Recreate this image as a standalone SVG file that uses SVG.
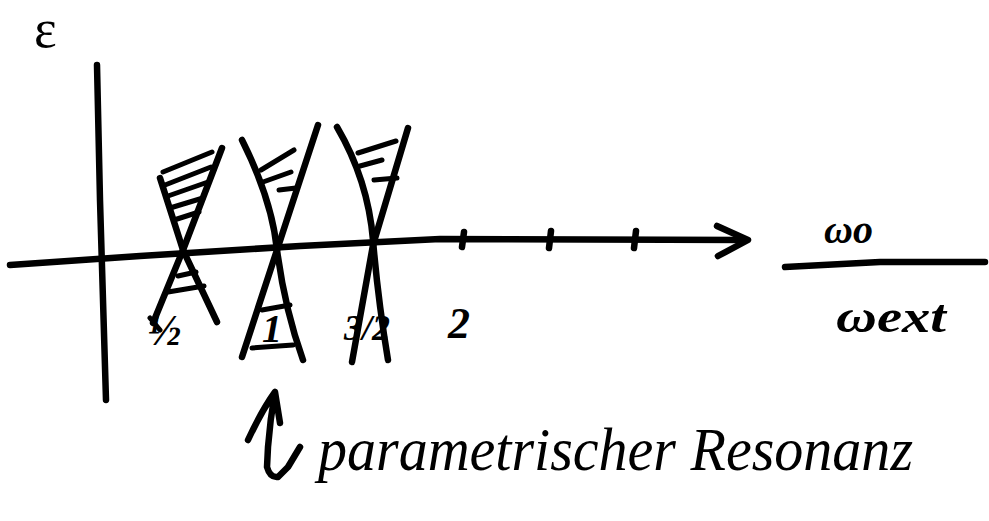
<svg xmlns="http://www.w3.org/2000/svg" width="989" height="521" viewBox="0 0 989 521">
<style>
.s{fill:none;stroke:#000;stroke-width:6.5;stroke-linecap:round;stroke-linejoin:round}
.h{fill:none;stroke:#000;stroke-width:5;stroke-linecap:round}
.t{font-family:"Liberation Serif",serif;font-style:italic;font-weight:bold;fill:#000}
.n{font-family:"Liberation Serif",serif;font-style:italic;font-weight:normal;fill:#000}
</style>
<rect width="989" height="521" fill="#fff"/>
<g id="axes">
<path class="s" d="M97,65 L100,200 L106,400"/>
<path class="s" d="M10,265 L140,256 L300,246 L440,239 L745,240"/>
<path class="s" d="M717,226 L748,240 L718,256"/>
<path class="s" d="M464,232 L462,247 M551,231 L549,248 M636,231 L634,248"/>
</g>
<g id="tongue1">
<path class="s" d="M160,178 L183,250 L217,322"/>
<path class="s" d="M222,148 L183,250 L153,323"/>
<path class="h" d="M163,172 L212,152 M165,185 L211,167 M168,196 L208,182 M170,208 L203,198 M174,220 L199,212 M178,276 L196,272 M168,292 L204,286 M150,318 L160,330"/>
</g>
<g id="tongue2">
<path class="s" d="M242,140 Q272,200 277,250 Q285,310 303,360"/>
<path class="s" d="M318,125 L277,250 L242,357"/>
<path class="h" d="M261,170 L294,150 M263,182 L291,172 M279,190 L296,188 M262,310 L290,305 M252,348 L293,345"/>
</g>
<g id="tongue3">
<path class="s" d="M337,127 Q368,180 373,240 Q378,300 388,360"/>
<path class="s" d="M408,128 L373,245 L352,362"/>
<path class="h" d="M358,153 L396,141 M360,166 L382,160 M374,180 L397,178"/>
</g>
<g id="labels">
<text class="n" x="34" y="47" font-size="54" style="font-style:normal">ε</text>
<text class="t" x="148" y="345" font-size="44">½</text>
<text class="t" x="262" y="342" font-size="40">1</text>
<text class="t" x="344" y="340" font-size="36">3/2</text>
<text class="t" x="448" y="338" font-size="44">2</text>
<text class="t" x="824" y="243" font-size="40">ωo</text>
<path class="s" d="M785,267 L880,262 L985,262"/>
<text class="t" x="836" y="332" font-size="46" textLength="110" lengthAdjust="spacingAndGlyphs">ωext</text>
</g>
<g id="annotation">
<path class="s" d="M248,440 Q262,410 275,392 L280,423 M275,392 Q270,420 268,447 L267,467 Q270,478 278,477 L288,467 L300,447"/>
<text class="n" x="318" y="470" font-size="62" textLength="595" lengthAdjust="spacingAndGlyphs">parametrischer Resonanz</text>
</g>
</svg>
